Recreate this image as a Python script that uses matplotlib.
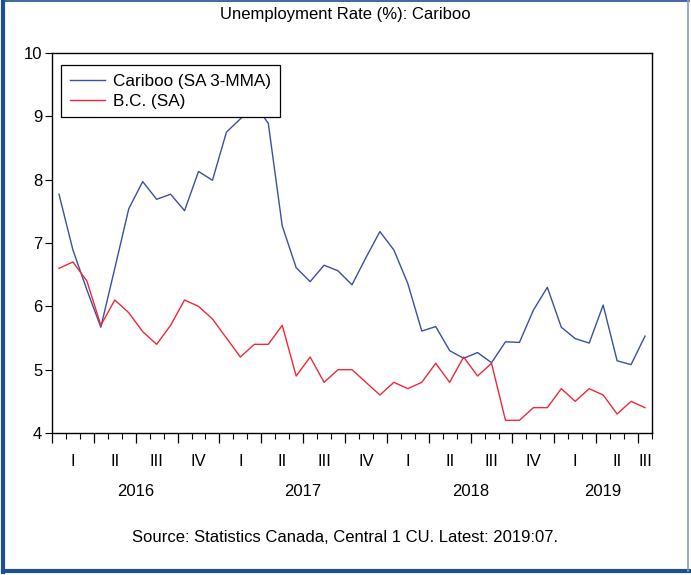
import matplotlib
matplotlib.use("Agg")
import matplotlib.pyplot as plt
import matplotlib.lines as mlines
import numpy as np

plt.rcParams['font.family'] = ['Liberation Sans', 'DejaVu Sans']

# monthly data, Jan 2016 - Jul 2019
cariboo = [7.77, 6.89, 6.26, 5.67, 6.60, 7.54, 7.97, 7.69, 7.77, 7.51, 8.13, 7.99,
           8.75, 8.96, 9.20, 8.89, 7.27, 6.61, 6.39, 6.65, 6.56, 6.34, 6.77, 7.18,
           6.89, 6.36, 5.61, 5.68, 5.30, 5.18, 5.27, 5.11, 5.44, 5.43, 5.94, 6.30,
           5.67, 5.49, 5.42, 6.02, 5.14, 5.08, 5.53]
bc = [6.6, 6.7, 6.4, 5.7, 6.1, 5.9, 5.6, 5.4, 5.7, 6.1, 6.0, 5.8,
      5.5, 5.2, 5.4, 5.4, 5.7, 4.9, 5.2, 4.8, 5.0, 5.0, 4.8, 4.6,
      4.8, 4.7, 4.8, 5.1, 4.8, 5.2, 4.9, 5.1, 4.2, 4.2, 4.4, 4.4,
      4.7, 4.5, 4.7, 4.6, 4.3, 4.5, 4.4]
years = ["2016", "2017", "2018", "2019"]
quarters = ["I", "II", "III", "IV"]

n = len(cariboo)
x = np.arange(n) + 0.5

fig = plt.figure(figsize=(6.91, 5.75), dpi=100)
ax = fig.add_axes([52/691, 1 - 433/575, 600/691, 380/575])

ax.plot(x, cariboo, color="#3a50a0", lw=1.0, label="Cariboo (SA 3-MMA)")
ax.plot(x, bc, color="#f0283a", lw=1.0, label="B.C. (SA)")

ax.set_xlim(0, n)
ax.set_ylim(4, 10)
ax.set_yticks(range(4, 11))
ax.tick_params(axis='y', direction='out', length=5, width=0.8, labelsize=12, pad=2)

ax.set_xticks(np.arange(0, n + 1, 3))
ax.set_xticks(np.arange(0, n + 1), minor=True)
ax.tick_params(axis='x', which='major', direction='out', length=7, width=0.9, labelbottom=False)
ax.tick_params(axis='x', which='minor', direction='out', length=4, width=0.8)
for s in ax.spines.values():
    s.set_linewidth(1.0)

# quarter and year labels
tr = ax.get_xaxis_transform()
for q0 in range(0, n, 3):
    q1 = min(q0 + 3, n)
    ax.text((q0 + q1) / 2, -0.076, quarters[(q0 // 3) % 4], transform=tr,
            ha='center', va='center', fontsize=12)
for i, yr in enumerate(years):
    a = i * 12
    b = min(a + 12, n)
    ax.text((a + b) / 2, -0.155, yr, transform=tr, ha='center', va='center', fontsize=12)

leg = ax.legend(loc='upper left', bbox_to_anchor=(0.015, 0.968), borderaxespad=0,
                fontsize=12.3, fancybox=False, handlelength=2.1, handletextpad=0.45,
                labelspacing=0.3, borderpad=0.5, framealpha=1)
leg.get_frame().set_edgecolor('black')
leg.get_frame().set_linewidth(0.9)

fig.text(0.5, 1 - 15/575, "Unemployment Rate (%): Cariboo", ha='center', va='center', fontsize=12)
fig.text(0.5, 1 - 537/575, "Source: Statistics Canada, Central 1 CU. Latest: 2019:07.",
         ha='center', va='center', fontsize=12)

# outer border
bcol = "#1f4f8f"
fig.add_artist(mlines.Line2D([3/691, 3/691], [3/575, 1], color=bcol, lw=3))
fig.add_artist(mlines.Line2D([3/691, 689/691], [4/575, 4/575], color=bcol, lw=3))
fig.add_artist(mlines.Line2D([3/691, 689/691], [1 - 1/575, 1 - 1/575], color=bcol, lw=1.2))
fig.add_artist(mlines.Line2D([688/691, 688/691], [4/575, 1], color="#7f9ec4", lw=1.2))

fig.savefig("out.png", dpi=100)
